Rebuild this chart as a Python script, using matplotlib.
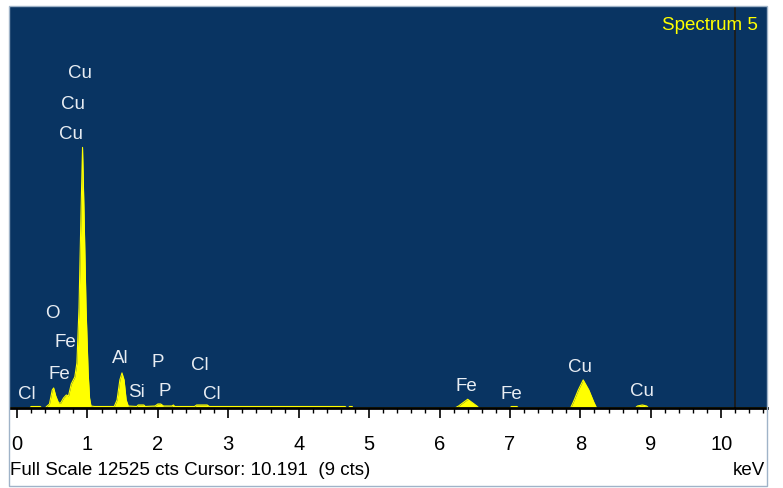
import matplotlib.pyplot as plt
from matplotlib.patches import Rectangle
from matplotlib.ticker import MultipleLocator

plt.rcParams['font.family'] = ['Liberation Sans', 'DejaVu Sans']

# spectrum (keV, counts)
energy = [-0.10, 0.18, 0.20, 0.33, 0.35, 0.40, 0.42, 0.46, 0.50, 0.52, 0.55, 0.59,
          0.62, 0.66, 0.70, 0.73, 0.77, 0.82, 0.85, 0.88, 0.91, 0.93, 0.95, 0.98,
          1.01, 1.03, 1.05, 1.10, 1.38, 1.42, 1.46, 1.49, 1.52, 1.55, 1.58, 1.70,
          1.72, 1.80, 1.82, 1.96, 2.00, 2.04, 2.08, 2.20, 2.22, 2.24, 2.52, 2.55,
          2.70, 2.73, 4.66, 4.68, 4.71, 4.72, 4.76, 4.77, 6.22, 6.27, 6.40, 6.53,
          6.56, 7.00, 7.02, 7.10, 7.12, 7.86, 7.90, 7.97, 8.04, 8.12, 8.19, 8.23,
          8.78, 8.81, 8.88, 8.94, 8.97, 10.65]
counts = [0, 0, 47, 47, 0, 0, 47, 125, 562, 625, 375, 156,
          156, 312, 406, 375, 750, 968, 1405, 3123, 6246, 8120, 6246, 3123,
          1093, 312, 62, 47, 47, 250, 875, 1093, 875, 250, 62, 47,
          94, 94, 47, 62, 125, 125, 62, 62, 94, 47, 47, 94,
          94, 47, 47, 0, 0, 47, 47, 0, 0, 62, 272, 62,
          0, 0, 47, 47, 0, 0, 187, 562, 875, 562, 187, 0,
          0, 62, 94, 62, 0, 0]

# peak labels (text, keV, counts)
labels = ['Cu', 'Cu', 'Cu', 'O', 'Fe', 'Fe', 'Cl', 'Al', 'Si', 'P', 'P', 'Cl', 'Cl',
          'Fe', 'Fe', 'Cu', 'Cu']
label_e = [0.89, 0.79, 0.76, 0.50, 0.68, 0.60, 0.135, 1.46, 1.70, 2.00, 2.10, 2.59, 2.76,
           6.38, 7.02, 7.99, 8.87]
label_c = [10460, 9490, 8560, 2960, 2075, 1090, 460, 1560, 510, 1450, 560, 1340, 460,
           690, 460, 1290, 540]

full_scale = 12525
cursor = 10.191

fig = plt.figure(figsize=(7.83, 4.89), dpi=100)
W, H = 783, 489
ax = fig.add_axes([10 / W, (H - 409) / H, 757 / W, 402 / H])
ax.set_facecolor('#093462')

ax.fill_between(energy, counts, 0, color='#ffff00', lw=0)
ax.plot(energy, counts, color='#ffff00', lw=0.8)
ax.axvline(cursor, color='#1c1c1c', lw=1.3)

for t, e, c in zip(labels, label_e, label_c):
    ax.text(e, c, t, color='#e8edf3', fontsize=13.5, ha='center', va='center')

ax.text(0.988, 0.955, 'Spectrum 5', color='#ffff00', fontsize=13.5,
        ha='right', va='center', transform=ax.transAxes)

ax.set_xlim(-0.10, 10.65)
ax.set_ylim(0, full_scale)
ax.xaxis.set_major_locator(MultipleLocator(1))
ax.xaxis.set_minor_locator(MultipleLocator(0.2))
ax.set_yticks([])
ax.tick_params(axis='x', which='major', direction='out', length=7, width=1.2,
               pad=12, labelsize=14.5, color='black')
ax.tick_params(axis='x', which='minor', direction='out', length=3.5, width=1.0,
               color='black')
for s in ['top', 'left', 'right']:
    ax.spines[s].set_visible(False)
ax.spines['bottom'].set_linewidth(2)
ax.spines['bottom'].set_color('black')

fig.patches.append(Rectangle((9 / W, 2 / H), 758 / W, 480 / H, transform=fig.transFigure,
                             fill=False, edgecolor='#9fb3c8', lw=1))

fig.text(10 / W, (H - 471) / H, 'Full Scale 12525 cts Cursor: 10.191  (9 cts)',
         fontsize=13.5, ha='left', va='center')
fig.text(765 / W, (H - 471) / H, 'keV', fontsize=13.5, ha='right', va='center')

fig.savefig('out.png', dpi=100)
